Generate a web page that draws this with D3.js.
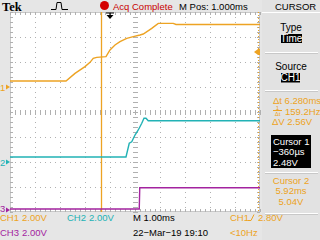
<!DOCTYPE html>
<html><head><meta charset="utf-8">
<script src="https://cdn.jsdelivr.net/npm/d3@7"></script>
<style>body{margin:0;background:#e6e6e6;overflow:hidden}svg{display:block}</style>
</head><body>
<svg id="c" width="320" height="240"></svg>
<script>
// ---- data (time in ms, values in volts) ----
const ch1Time  = [-4, -1.76, -1.4, -1.0, -0.8, -0.67, -0.53, -0.16, 0, 0.2, 0.4, 0.67, 0.93, 1.2, 1.33, 1.67, 1.93, 2.53, 2.64, 6];
const ch1Volts = [0.48, 0.48, 1.09, 1.63, 1.97, 2.3, 2.37, 2.43, 2.96, 3.36, 3.63, 3.89, 4.03, 4.16, 4.24, 4.69, 5.09, 5.09, 5.0, 5.0];
const ch2Time  = [-4, 0.64, 0.77, 0.87, 1.0, 1.13, 1.27, 1.36, 1.44, 1.53, 6];
const ch2Volts = [0.4, 0.4, 1.5, 1.62, 2.16, 2.56, 3.1, 3.5, 3.5, 3.3, 3.3];
const ch3Time  = [-4, 1.17, 1.19, 6];
const ch3Volts = [0.08, 0.08, 1.78, 1.78];
const cursorTimes = [-0.36, 5.92];
const triggerTime = 0;
const triggerLevel = 2.80;
const timeDivs = [-4, -3, -2, -1, 0, 1, 2, 3, 4, 5, 6];
const voltDivs = [-4, -3, -2, -1, 0, 1, 2, 3, 4];
const bottomRow1 = [["CH1", "2.00V"], ["CH2", "2.00V"]];
const bottomRow2 = [["CH3", "2.00V"]];
const panelLabels = ["Type", "Time", "Source", "CH1"];
const readouts = ["6.280ms", "159.2Hz", "2.56V"];
const cursor1Text = ["Cursor 1", "\u2212360\u00b5s", "2.48V"];
const cursor2Text = ["Cursor 2", "5.92ms", "5.04V"];

const C1 = "#eda323", C2 = "#22b2b5", C3 = "#a3239f", GRID = "#b0b0b0";
const FONT = "'Liberation Sans', Arial, sans-serif";
const svg = d3.select("#c");

const x = d3.scaleLinear().domain([-4, 6]).range([10, 260]);
const yDiv = d3.scaleLinear().domain([-4, 4]).range([212, 12]);
const vPerDiv = 2;
const channels = [
  {t: ch1Time, v: ch1Volts, off: 1, color: C1, label: "1"},
  {t: ch2Time, v: ch2Volts, off: -2, color: C2, label: "2"},
  {t: ch3Time, v: ch3Volts, off: -3.92, color: C3, label: "3"}
];
const yOf = (ch, v) => yDiv(ch.off + v / vPerDiv);

// graticule background
svg.append("rect").attr("x", x(-4)).attr("y", yDiv(4)).attr("width", x(6) - x(-4)).attr("height", yDiv(-4) - yDiv(4)).attr("fill", "#ffffff");
svg.append("rect").attr("x", 262).attr("y", 0).attr("width", 58).attr("height", 240).attr("fill", "#e2e2e2");

const g = svg.append("g");
// dotted grid
g.selectAll(".vg").data(timeDivs.slice(1, -1)).enter().append("line")
  .attr("x1", d => x(d) + 0.5).attr("x2", d => x(d) + 0.5).attr("y1", yDiv(4)).attr("y2", yDiv(-4))
  .attr("stroke", GRID).attr("stroke-dasharray", "1,4");
g.selectAll(".hg").data(voltDivs.slice(1, -1)).enter().append("line")
  .attr("y1", d => yDiv(d) + 0.5).attr("y2", d => yDiv(d) + 0.5).attr("x1", x(-4)).attr("x2", x(6))
  .attr("stroke", GRID).attr("stroke-dasharray", "1,4");
// frame
g.append("rect").attr("x", x(-4) + 0.5).attr("y", yDiv(4) + 0.5).attr("width", x(6) - x(-4) - 1).attr("height", yDiv(-4) - yDiv(4) - 1)
  .attr("fill", "none").attr("stroke", "#c8c8c8");
// minor ticks
const minorT = d3.range(-4, 6.001, 0.2);
const minorV = d3.range(-4, 4.001, 0.2);
minorT.forEach(t => {
  const px = Math.round(x(t)) + 0.5;
  [[yDiv(4), yDiv(4) + 3], [yDiv(-4) - 3, yDiv(-4)], [yDiv(0) - 2, yDiv(0) + 3]].forEach(([a, b]) =>
    g.append("line").attr("x1", px).attr("x2", px).attr("y1", a).attr("y2", b).attr("stroke", GRID));
});
minorV.forEach(v => {
  const py = Math.round(yDiv(v)) + 0.5;
  [[x(-4), x(-4) + 3], [x(6) - 3, x(6)], [x(1) - 2, x(1) + 3]].forEach(([a, b]) =>
    g.append("line").attr("y1", py).attr("y2", py).attr("x1", a).attr("x2", b).attr("stroke", GRID));
});

// cursors
svg.append("line").attr("x1", x(cursorTimes[0]) + 0.5).attr("x2", x(cursorTimes[0]) + 0.5).attr("y1", 12).attr("y2", 212).attr("stroke", C1).attr("stroke-width", 1.3);
svg.append("line").attr("x1", x(cursorTimes[1]) + 0.5).attr("x2", x(cursorTimes[1]) + 0.5).attr("y1", 12).attr("y2", 212).attr("stroke", C1).attr("stroke-dasharray", "1,2");

// waveforms
channels.forEach(ch => {
  const pts = ch.t.map((t, i) => [x(t), yOf(ch, ch.v[i])]);
  svg.append("path").attr("d", d3.line()(pts)).attr("fill", "none").attr("stroke", ch.color).attr("stroke-width", 1.4);
  const gy = yOf(ch, 0);
  svg.append("text").attr("x", 0).attr("y", Math.min(gy + 3.5, 211.5)).attr("fill", ch.color).attr("font-family", FONT).attr("font-size", 9.5).text(ch.label);
  svg.append("path").attr("d", `M6,${gy - 2.5}L10,${gy}L6,${gy + 2.5}Z`).attr("fill", ch.color);
});

// trigger markers
const tx = x(triggerTime);
svg.append("path").attr("d", `M${tx - 4},13H${tx + 4}M${tx},13V16`).attr("stroke", "#000").attr("stroke-width", 1.2);
svg.append("path").attr("d", `M${tx - 3.5},15L${tx + 3.5},15L${tx},19Z`).attr("fill", "#000");
const ty = yOf(channels[0], triggerLevel);
svg.append("path").attr("d", `M254,${ty}L258,${ty - 3}H260V${ty + 3}H258Z`).attr("fill", C1);

// top bar
svg.append("text").attr("x", 2).attr("y", 10.5).attr("font-family", "'Liberation Serif', serif").attr("font-weight", "bold").attr("font-size", 12.5).text("Tek");
svg.append("path").attr("d", "M51,9.5H56L57,2.5H61L62,9.5H68").attr("fill", "none").attr("stroke", "#000").attr("stroke-width", 1);
svg.append("circle").attr("cx", 104.5).attr("cy", 5.5).attr("r", 4.5).attr("fill", "#d40000");
const txt = (xx, yy, s, color, anchor, size) => svg.append("text").attr("x", xx).attr("y", yy)
  .attr("fill", color || "#000").attr("text-anchor", anchor || "start").attr("font-family", FONT).attr("font-size", size || 9.5).text(s);
txt(113, 9.5, "Acq Complete", "#c80000");
txt(179, 9.5, "M Pos: 1.000ms");
txt(275, 9.5, "CURSOR");

// bottom
bottomRow1.forEach((d, i) => {
  const c = i === 0 ? C1 : C2, bx = i === 0 ? 0 : 67;
  txt(bx, 221, d[0], c); txt(bx + 22, 221, d[1], c);
});
bottomRow2.forEach(d => { txt(0, 236, d[0], C3); txt(22, 236, d[1], C3); });
txt(133, 221, "M 1.00ms");
txt(133, 236, "22\u2212Mar\u221219 19:10");
txt(230, 221, "CH1", C1);
svg.append("path").attr("d", "M248,220.5H251L254,214.5").attr("fill", "none").attr("stroke", C1);
txt(258, 221, "2.80V", C1);
txt(230, 236, "<10Hz", C1);

// right panel
[52, 90, 172, 213].forEach(yy => {
  svg.append("line").attr("x1", 265).attr("x2", 318).attr("y1", yy + 0.5).attr("y2", yy + 0.5).attr("stroke", "#ffffff");
  svg.append("line").attr("x1", 265).attr("x2", 318).attr("y1", yy + 1.5).attr("y2", yy + 1.5).attr("stroke", "#c8c8c8");
});
svg.append("line").attr("x1", 262).attr("x2", 320).attr("y1", 12.5).attr("y2", 12.5).attr("stroke", "#ffffff");
txt(291, 30.5, panelLabels[0], "#000", "middle", 10);
svg.append("rect").attr("x", 281).attr("y", 34).attr("width", 21).attr("height", 9).attr("fill", "#000");
txt(291.5, 42, panelLabels[1], "#fff", "middle", 10);
txt(291, 70, panelLabels[2], "#000", "middle", 10);
svg.append("rect").attr("x", 281).attr("y", 73).attr("width", 19).attr("height", 9.5).attr("fill", "#000");
txt(290.5, 81, panelLabels[3], "#fff", "middle", 10);

txt(273, 103.5, "\u0394t " + readouts[0], C1);
txt(277.5, 109.5, "1", C1, "middle", 6);
svg.append("line").attr("x1", 273).attr("x2", 282).attr("y1", 110.5).attr("y2", 110.5).attr("stroke", C1);
txt(277.5, 115.5, "\u0394t", C1, "middle", 6);
txt(285, 114.5, readouts[1], C1);
txt(272, 125, "\u0394V " + readouts[2], C1);

svg.append("rect").attr("x", 271).attr("y", 135).attr("width", 40).attr("height", 33).attr("fill", "#000");
cursor1Text.forEach((s, i) => txt(273, 144.5 + i * 10.6, s, "#fff"));
cursor2Text.forEach((s, i) => txt(291, 183.5 + i * 10.7, s, C1, "middle"));
</script>
</body></html>
